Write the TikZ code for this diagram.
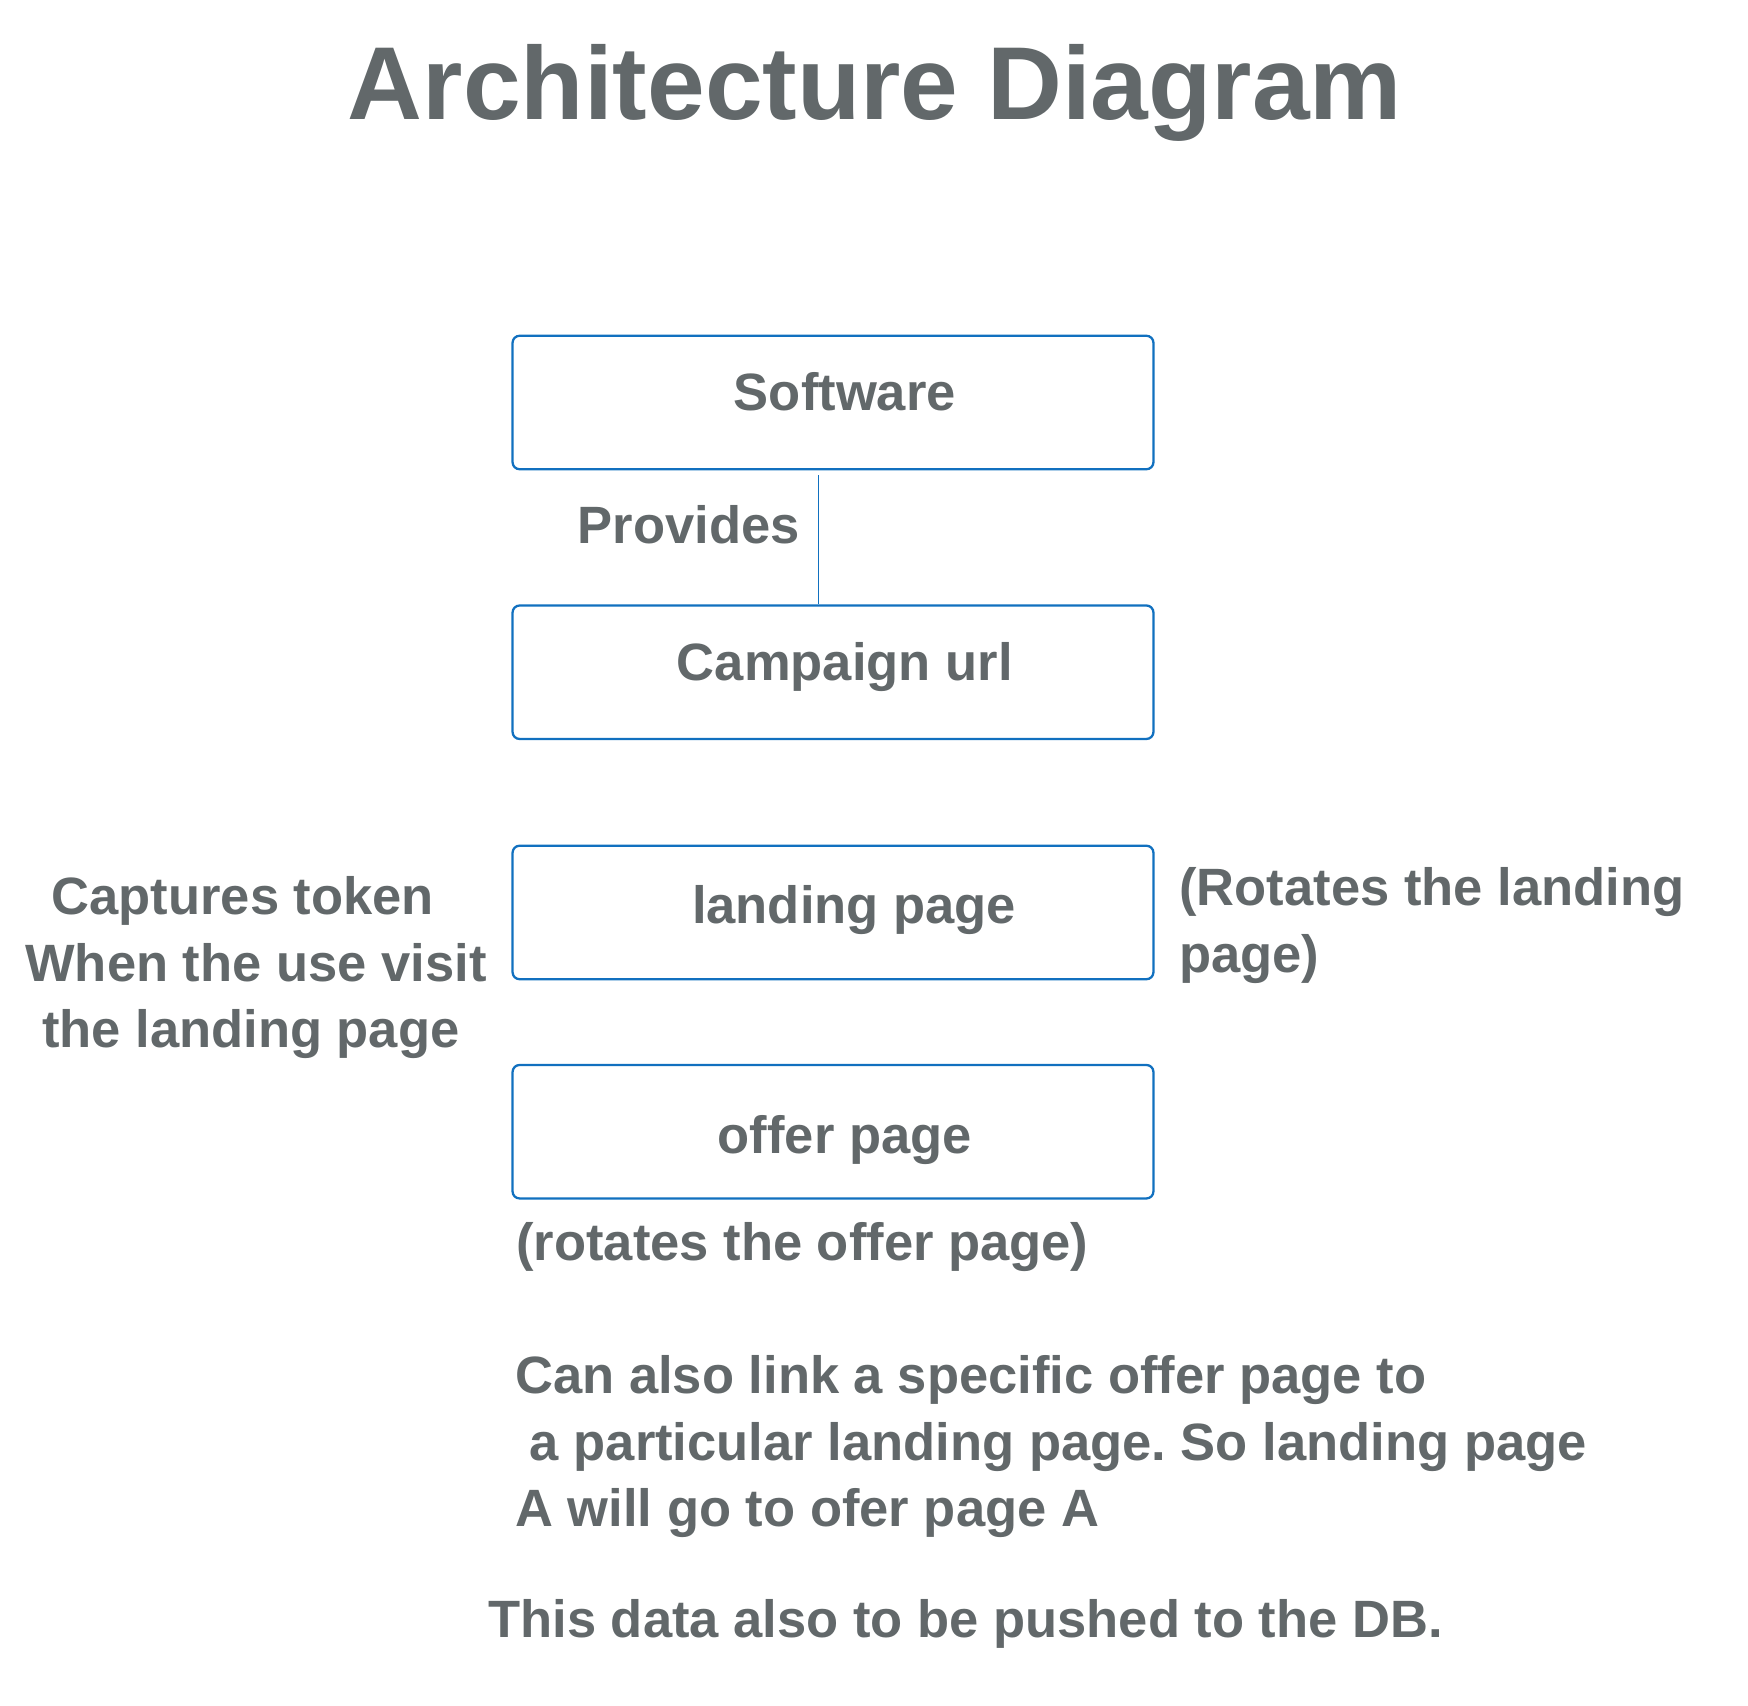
\documentclass[tikz,border=0pt]{standalone}
\usepackage{fontspec}
\setmainfont{Liberation Sans}
\usetikzlibrary{positioning}
\frenchspacing

\definecolor{inkgray}{HTML}{62686A}
\definecolor{boxblue}{HTML}{1170BF}

\begin{document}
\begin{tikzpicture}[x=0.02cm,y=-0.02cm]

        \tikzstyle{link} = [boxblue, line width=0.9pt]
        \tikzset{pagebox/.style = {rectangle, draw=boxblue, line width=1.3pt, rounded corners=4pt, minimum width=12.82cm, minimum height=2.67cm, inner sep=0pt, text=inkgray, font=\bfseries\fontsize{29.9}{38.5}\selectfont, text height=9.6pt, text depth=0pt}, }
        \tikzset{note/.style = {inner sep=0pt, text=inkgray, font=\bfseries\fontsize{29.9}{38}\selectfont}, }

        \useasboundingbox (0,0) rectangle (1748,1706);

        \node[note, font=\bfseries\fontsize{59}{70}\selectfont, anchor=base] (title) at (875,120) {Architecture Diagram};

        \node[pagebox] (SW) at (833,402.5) {\hspace*{0.45em}Software};
        \node[pagebox, below=2.68cm of SW, text height=9.3pt] (CU) {\hspace*{0.45em}Campaign url};
        \node[pagebox, below=2.09cm of CU, text height=13pt] (LP) {\hspace*{0.8em}landing page};
        \node[pagebox, below=1.67cm of LP, text height=25pt] (OP) {\hspace*{0.45em}offer page};

        \node[note, anchor=base east] (prov) at (800,543) {Provides};
        \node[note, align=center, anchor=north] (capt) at (256,876) {Captures token\hspace*{0.5em}\\When the use visit\\the landing page\hspace*{0.2em}};
        \node[note, align=left, anchor=north west] (rotlp) at (1179,867) {(Rotates the landing\\page)};
        \node[note, anchor=base west] (rotop) at (516,1260) {(rotates the offer page)};
        \node[note, align=left, anchor=north west] (link) at (515,1355) {Can also link a specific offer page to\\\ a particular landing page. So landing page\\A will go to ofer page A};
        \node[note, anchor=base west] (db) at (488,1637) {This data also to be pushed to the DB.};

        \draw[link] ([xshift=-0.29cm,yshift=-0.1cm]SW.south) -- ([xshift=-0.29cm]CU.north);

\end{tikzpicture}
\end{document}
